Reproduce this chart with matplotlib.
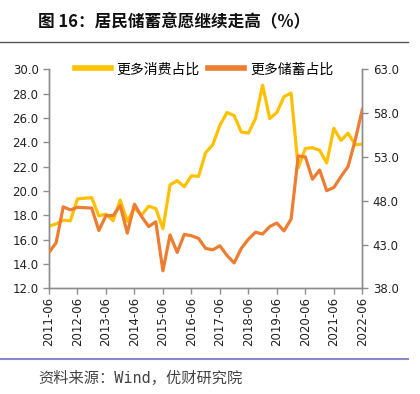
import numpy as np
import matplotlib
matplotlib.use("Agg")
import matplotlib.pyplot as plt

plt.rcParams["font.family"] = ["Noto Sans CJK SC", "DejaVu Sans"]

# 季度数据 2011-06 ~ 2022-06
consume = [17.1, 17.3, 17.6, 17.55, 19.35, 19.4, 19.45, 17.95, 18.1, 17.55,
           19.25, 17.5, 18.6, 18.0, 18.75, 18.55, 16.9, 20.5, 20.85, 20.35,
           21.25, 21.2, 23.15, 23.8, 25.4, 26.45, 26.2, 24.85, 24.75, 25.95,
           28.7, 25.95, 26.45, 27.75, 28.05, 21.9, 23.5, 23.55, 23.35, 22.3,
           25.15, 24.15, 24.75, 23.8, 23.85]
savings = [42.1, 43.2, 47.3, 46.95, 47.25, 47.2, 47.15, 44.6, 46.3, 46.3,
           47.45, 44.3, 47.6, 46.2, 45.05, 45.6, 40.0, 44.1, 42.1, 44.15,
           44.0, 43.7, 42.55, 42.4, 42.85, 41.75, 40.9, 42.55, 43.6, 44.4,
           44.2, 45.05, 45.45, 44.55, 45.9, 53.1, 53.0, 50.45, 51.5, 49.15,
           49.5, 50.75, 51.9, 54.9, 58.4]
year_labels = ["2011-06", "2012-06", "2013-06", "2014-06", "2015-06", "2016-06",
               "2017-06", "2018-06", "2019-06", "2020-06", "2021-06", "2022-06"]
left_ticks = [12.0, 14.0, 16.0, 18.0, 20.0, 22.0, 24.0, 26.0, 28.0, 30.0]
right_ticks = [38.0, 43.0, 48.0, 53.0, 58.0, 63.0]

YELLOW = "#FFC000"
ORANGE = "#ED7D31"
SPINE = "#8c8c8c"

fig = plt.figure(figsize=(4.2, 3.94), dpi=100)
ax = fig.add_axes([49 / 420, 1 - 288.3 / 394, 313.3 / 420, 219 / 394])
ax2 = ax.twinx()

x = np.arange(len(consume))
l1, = ax.plot(x, consume, color=YELLOW, lw=2.3, label="更多消费占比", zorder=3)
l2, = ax2.plot(x, savings, color=ORANGE, lw=2.3, label="更多储蓄占比", zorder=3)

ax.set_xlim(0, len(consume) - 1)
ax.set_ylim(12, 30)
ax2.set_ylim(38, 63)
ax.set_yticks(left_ticks)
ax.set_yticklabels([f"{v:.1f}" for v in left_ticks])
ax2.set_yticks(right_ticks)
ax2.set_yticklabels([f"{v:.1f}" for v in right_ticks])
ax.set_xticks(np.arange(0, len(consume), 4))
ax.set_xticklabels(year_labels, rotation=90, family="DejaVu Sans")

for a in (ax, ax2):
    a.spines["top"].set_visible(False)
    for s in ("left", "right", "bottom"):
        a.spines[s].set_color(SPINE)
        a.spines[s].set_linewidth(1.0)
    a.tick_params(colors=SPINE, labelcolor="#222222", length=4, width=1.0,
                  labelsize=8.5)
    for lab in a.get_yticklabels():
        lab.set_family("DejaVu Sans")
ax.tick_params(axis="x", pad=2)

leg = ax.legend(handles=[l1, l2], loc="center", bbox_to_anchor=(0.495, 1.0),
                ncol=2, frameon=False, fontsize=10, handlelength=2.6,
                columnspacing=0.6, handletextpad=0.4, borderaxespad=0)
for h in leg.get_lines():
    h.set_linewidth(4)

# 标题与分隔线
fig.text(38 / 420, 1 - 21 / 394, "图 16：居民储蓄意愿继续走高（%）", fontsize=12,
         fontweight="bold", va="center", ha="left", color="#111111")
fig.add_artist(plt.Line2D([0, 408 / 420], [1 - 42.3 / 394, 1 - 42.3 / 394],
                          color="#555555", lw=1.0, transform=fig.transFigure))
fig.add_artist(plt.Line2D([0, 408 / 420], [1 - 359 / 394, 1 - 359 / 394],
                          color="#8888cc", lw=1.5, transform=fig.transFigure))
fig.text(38 / 420, 1 - 378 / 394, "资料来源：Wind，优财研究院", fontsize=11,
         family=["DejaVu Sans Mono", "Noto Sans CJK SC"],
         va="center", ha="left", color="#444444")

fig.savefig("out.png", dpi=100)
